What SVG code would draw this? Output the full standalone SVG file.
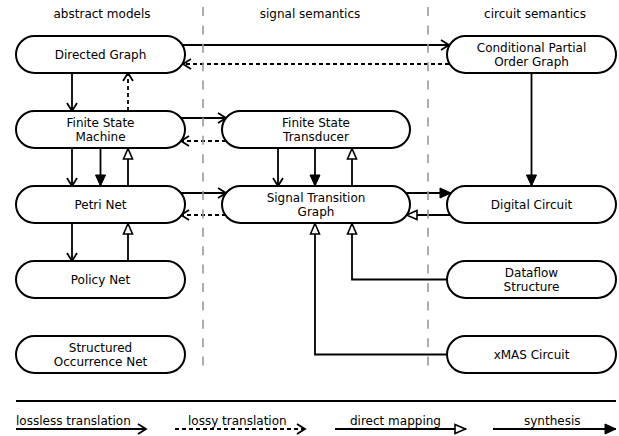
<svg xmlns="http://www.w3.org/2000/svg" width="619" height="436" viewBox="0 0 619 436">
  <style>
    text { font-family: "DejaVu Sans", "Liberation Sans", sans-serif; font-size: 12px; fill: #000; }
    .node rect { fill: #fff; stroke: #000; stroke-width: 2; }
    .node text { text-anchor: middle; }
    .head { text-anchor: middle; }
    .col { stroke: #999; stroke-width: 1.6; stroke-dasharray: 9 9.4; }
    .edge { fill: none; stroke: #000; stroke-width: 1.8; }
    .lossless { marker-end: url(#vee); }
    .lossy { stroke-dasharray: 4 3; marker-end: url(#vee); }
    .direct { marker-end: url(#openTri); }
    .synth { marker-end: url(#fillTri); }
  </style>
  <defs>
    <marker id="vee" markerUnits="userSpaceOnUse" markerWidth="12" markerHeight="14" refX="9" refY="6" orient="auto" viewBox="0 0 12 12">
      <path d="M1,1 L9,6 L1,11" fill="none" stroke="#000" stroke-width="1.8"/>
    </marker>
    <marker id="fillTri" markerUnits="userSpaceOnUse" markerWidth="14" markerHeight="14" refX="12" refY="6" orient="auto" viewBox="0 0 14 12">
      <path d="M1,1 L12,6 L1,11 Z" fill="#000" stroke="#000" stroke-width="1"/>
    </marker>
    <marker id="openTri" markerUnits="userSpaceOnUse" markerWidth="14" markerHeight="14" refX="12" refY="6" orient="auto" viewBox="0 0 14 12">
      <path d="M1,1.5 L11.5,6 L1,10.5 Z" fill="#fff" stroke="#000" stroke-width="1.6"/>
    </marker>
  </defs>

  <!-- column headings -->
  <text class="head" x="102" y="18">abstract models</text>
  <text class="head" x="310" y="18">signal semantics</text>
  <text class="head" x="535" y="18">circuit semantics</text>

  <!-- connectors -->
  <g id="connectors">
    <!-- Directed Graph <-> CPOG -->
    <path class="edge lossless" d="M183,45 H449"/>
    <path class="edge lossy" d="M449,64 H183"/>
    <!-- Directed Graph <-> FSM -->
    <path class="edge lossless" d="M72,73 V111"/>
    <path class="edge lossy" d="M128,111 V73"/>
    <!-- FSM <-> FST -->
    <path class="edge lossless" d="M181,118 H226"/>
    <path class="edge lossy" d="M226,141 H181"/>
    <!-- FSM <-> Petri Net -->
    <path class="edge lossless" d="M72,148 V186"/>
    <path class="edge synth" d="M100.5,148 V186"/>
    <path class="edge direct" d="M128,186 V148"/>
    <!-- Petri Net <-> STG -->
    <path class="edge lossless" d="M181,193 H226"/>
    <path class="edge lossy" d="M226,215 H181"/>
    <!-- Petri Net <-> Policy Net -->
    <path class="edge lossless" d="M72,223 V261"/>
    <path class="edge direct" d="M128,261 V223"/>
    <!-- FST <-> STG -->
    <path class="edge lossless" d="M278,148 V186"/>
    <path class="edge synth" d="M315,148 V186"/>
    <path class="edge direct" d="M352,186 V148"/>
    <!-- CPOG -> Digital Circuit -->
    <path class="edge synth" d="M531.5,73 V186"/>
    <!-- STG <-> Digital Circuit -->
    <path class="edge synth" d="M406,193 H451"/>
    <path class="edge direct" d="M451,215 H406"/>
    <!-- Dataflow Structure -> STG -->
    <path class="edge direct" d="M447,279.5 H352 V223"/>
    <!-- xMAS Circuit -> STG -->
    <path class="edge direct" d="M447,354.5 H315 V223"/>
  </g>

  <!-- nodes -->
  <g id="directed-graph" class="node">
    <rect x="16" y="36" width="169" height="37" rx="18.5"/>
    <text x="100.5" y="58.8">Directed Graph</text>
  </g>
  <g id="fsm" class="node">
    <rect x="16" y="111" width="169" height="37" rx="18.5"/>
    <text x="100.5" y="126.6">Finite State</text>
    <text x="100.5" y="141.1">Machine</text>
  </g>
  <g id="petri-net" class="node">
    <rect x="16" y="186" width="169" height="37" rx="18.5"/>
    <text x="100.5" y="208.8">Petri Net</text>
  </g>
  <g id="policy-net" class="node">
    <rect x="16" y="261" width="169" height="37" rx="18.5"/>
    <text x="100.5" y="283.8">Policy Net</text>
  </g>
  <g id="son" class="node">
    <rect x="16" y="336" width="169" height="37" rx="18.5"/>
    <text x="100.5" y="351.6">Structured</text>
    <text x="100.5" y="366.1">Occurrence Net</text>
  </g>
  <g id="fst" class="node">
    <rect x="222" y="111" width="188" height="37" rx="18.5"/>
    <text x="316" y="126.6">Finite State</text>
    <text x="316" y="141.1">Transducer</text>
  </g>
  <g id="stg" class="node">
    <rect x="222" y="186" width="188" height="37" rx="18.5"/>
    <text x="316" y="201.6">Signal Transition</text>
    <text x="316" y="216.1">Graph</text>
  </g>
  <g id="cpog" class="node">
    <rect x="447" y="36" width="169" height="37" rx="18.5"/>
    <text x="531.5" y="51.6">Conditional Partial</text>
    <text x="531.5" y="66.1">Order Graph</text>
  </g>
  <g id="digital-circuit" class="node">
    <rect x="447" y="186" width="169" height="37" rx="18.5"/>
    <text x="531.5" y="208.8">Digital Circuit</text>
  </g>
  <g id="dataflow" class="node">
    <rect x="447" y="261" width="169" height="37" rx="18.5"/>
    <text x="531.5" y="276.6">Dataflow</text>
    <text x="531.5" y="291.1">Structure</text>
  </g>
  <g id="xmas" class="node">
    <rect x="447" y="336" width="169" height="37" rx="18.5"/>
    <text x="531.5" y="358.8">xMAS Circuit</text>
  </g>

  <!-- column separators -->
  <line class="col" x1="203" y1="7" x2="203" y2="373"/>
  <line class="col" x1="428" y1="7" x2="428" y2="373"/>

  <!-- legend -->
  <g id="legend">
    <line x1="16" y1="401" x2="616" y2="401" stroke="#000" stroke-width="2"/>
    <text x="16" y="425">lossless translation</text>
    <path class="edge lossless" d="M16,429 H146"/>
    <text x="188" y="425">lossy translation</text>
    <path class="edge lossy" d="M175,429 H305"/>
    <text x="350" y="425">direct mapping</text>
    <path class="edge direct" d="M335,429 H466"/>
    <text x="524" y="425">synthesis</text>
    <path class="edge synth" d="M493,429 H616"/>
  </g>
</svg>
